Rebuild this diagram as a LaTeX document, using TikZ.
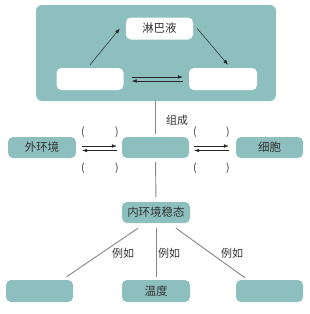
\documentclass[tikz,border=0pt]{standalone}
\usepackage{fontspec}
\setmainfont{Noto Sans CJK SC}
\usetikzlibrary{arrows.meta}
\definecolor{tealfill}{HTML}{8DBFBF}
\definecolor{inktext}{HTML}{333333}
\definecolor{linkgray}{HTML}{858585}

\begin{document}
\begin{tikzpicture}[x=1pt,y=-1pt]
\tikzset{
  fluidframe/.style={fill=tealfill,rounded corners=6pt,minimum width=240pt,minimum height=96pt,inner sep=0pt},
  whitebox/.style={fill=white,rounded corners=5pt,minimum width=67pt,minimum height=22pt,inner sep=0pt,font=\fontsize{11.5}{13}\selectfont,text=inktext},
  tealbox/.style={fill=tealfill,rounded corners=5pt,minimum width=67pt,minimum height=21pt,inner sep=0pt,font=\fontsize{11.5}{13}\selectfont,text=inktext},
  flow/.style={draw=black!85,line width=0.5pt,-{Latex[length=5pt,width=3.6pt]}},
  link/.style={draw=linkgray,line width=0.9pt},
  tag/.style={font=\fontsize{11}{13}\selectfont,text=inktext,inner sep=0pt},
  paren/.style={font=\fontsize{10.5}{12}\selectfont,text=inktext,inner sep=0pt}
}
\useasboundingbox (0,0) rectangle (309,314);
\node[fluidframe] (fluid) at (156,53) {};
\node[whitebox] (lymph) at (159.5,28.5) {淋巴液};
\node[whitebox] (plasma) at (90,79) {};
\node[whitebox,minimum width=68pt] (tissue) at (223,79) {};
\node[tealbox,minimum width=68pt] (outer) at (42,147.5) {外环境};
\node[tealbox] (inner) at (155.5,147.5) {};
\node[tealbox] (cell) at (269.5,147.5) {细胞};
\node[tealbox,minimum width=68pt] (homeo) at (156,212.5) {内环境稳态};
\node[tealbox,minimum height=22pt] (ex_left) at (39.5,291) {};
\node[tealbox,minimum width=68pt,minimum height=22pt] (ex_temp) at (156,291) {温度};
\node[tealbox,minimum height=22pt] (ex_right) at (269.5,291) {};
% inside the frame
\draw[flow] ([yshift=3pt]plasma.north) -- ([xshift=-6pt]lymph.west);
\draw[flow] ([xshift=4pt]lymph.east) -- ([xshift=5pt,yshift=3pt]tissue.north);
\draw[flow,shorten <=8pt,shorten >=6pt] ([yshift=2pt]plasma.east) -- ([yshift=2pt]tissue.west);
\draw[flow,shorten <=6pt,shorten >=8pt] ([yshift=-2pt]tissue.west) -- ([yshift=-2pt]plasma.east);
% middle row
\draw[flow,shorten <=6pt,shorten >=5pt] ([yshift=1.5pt]outer.east) -- ([yshift=1.5pt]inner.west);
\draw[flow,shorten <=5pt,shorten >=6pt] ([yshift=-3pt]inner.west) -- ([yshift=-3pt]outer.east);
\draw[flow,shorten <=5pt,shorten >=7pt] ([yshift=1.5pt]inner.east) -- ([yshift=1.5pt]cell.west);
\draw[flow,shorten <=7pt,shorten >=5pt] ([yshift=-3pt]cell.west) -- ([yshift=-3pt]inner.east);
\foreach \px/\ch in {83/(,117/),195/(,228/)} {
  \node[paren] at (\px,132) {\ch};
  \node[paren] at (\px,168) {\ch};
}
% connecting lines
\draw[link,shorten >=3pt] (fluid.south -| inner.north) -- (inner.north);
\node[tag] (make_up) at (177,120) {组成};
\draw[link,shorten <=4pt,shorten >=5pt] (inner.south) -- (homeo.north);
\draw[link] ([xshift=-18pt,yshift=-5pt]homeo.south) -- ([xshift=27pt,yshift=3pt]ex_left.north);
\draw[link] ([yshift=-5pt]homeo.south) -- ([yshift=3pt]ex_temp.north);
\draw[link] ([xshift=20pt,yshift=-5pt]homeo.south) -- ([xshift=-24.5pt,yshift=2pt]ex_right.north);
\node[tag] at (123,253) {例如};
\node[tag] at (169,253) {例如};
\node[tag] at (232,253) {例如};
\end{tikzpicture}
\end{document}
